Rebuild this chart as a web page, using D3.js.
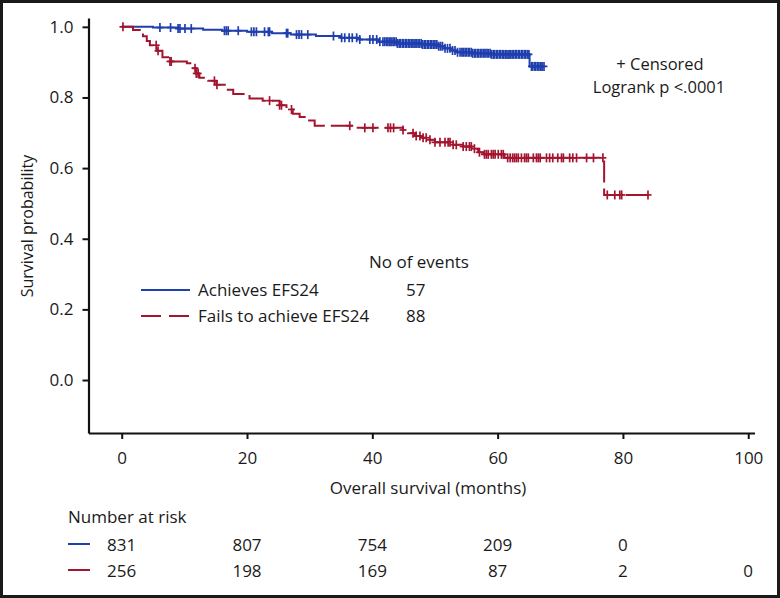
<!DOCTYPE html>
<html><head><meta charset="utf-8">
<script src="https://cdn.jsdelivr.net/npm/d3@7"></script>
<style>
body{margin:0;background:#fff}
svg{display:block}
text{font-family:'Open Sans',Lato,sans-serif;fill:#1a1a1a}
</style>
</head><body>
<svg id="c" width="780" height="598"></svg>
<script>
// ---------- data ----------
const seriesNames = ["Achieves EFS24", "Fails to achieve EFS24"];
const seriesEvents = [57, 88];

// Kaplan-Meier step points (event time in months, survival after the step)
const blueTimes = [0, 5, 9, 13, 16, 20, 24, 27, 31, 35, 38, 41, 44, 48, 50.5, 51.5, 52.5, 53.5, 56, 59, 65.1];
const blueSurv  = [1.0, 0.998, 0.995, 0.992, 0.989, 0.986, 0.982, 0.978, 0.974, 0.969, 0.964, 0.958, 0.953, 0.950, 0.945, 0.939, 0.933, 0.928, 0.925, 0.922, 0.888];
const blueEnd = 67.4;
const blueCensor = [6.1, 7.8, 9.0, 9.3, 10.1, 11.1, 16.4, 16.7, 17.0, 18.6, 20.7, 21.1, 21.5, 22.8, 23.4, 23.6,
  26.3, 26.5, 27.9, 28.3, 28.7, 29.7, 33.8, 35.1, 35.6, 36.3, 36.8, 37.5, 38.0, 39.6, 40.1, 40.7, 41.2, 41.7,
  42.0, 42.3, 42.5, 42.8, 43.0, 43.3, 43.5, 43.8, 44.0, 44.3, 44.5, 44.8, 45.0, 45.3, 45.5, 45.8, 46.0, 46.3,
  46.5, 46.8, 47.0, 47.3, 47.5, 47.8, 48.0, 48.3, 48.5, 48.8, 49.0, 49.3, 49.5, 49.8, 50.0, 50.3, 50.6, 50.9,
  51.2, 51.6, 52.0, 52.4, 52.8, 53.2, 53.6, 54.0, 54.3, 54.5, 54.8, 55.0, 55.3, 55.5, 55.8, 56.0, 56.3, 56.5,
  56.8, 57.0, 57.3, 57.5, 57.8, 58.0, 58.3, 58.5, 58.8, 59.0, 59.3, 59.5, 59.8, 60.0, 60.3, 60.5, 60.8, 61.0,
  61.3, 61.5, 61.8, 62.0, 62.3, 62.5, 62.8, 63.0, 63.3, 63.5, 63.8, 64.0, 64.3, 64.5, 64.8, 65.0,
  65.4, 65.6, 65.9, 66.1, 66.4, 66.6, 66.9, 67.1, 67.4];

const redTimes = [0, 1.8, 2.9, 3.4, 4.0, 4.5, 5.6, 6.5, 7.7, 10.4, 11.2, 11.9, 12.4, 13.8, 15.1, 16.7, 17.8, 20.4,
  22.5, 25.2, 26.3, 27.3, 28.4, 29.5, 30.8, 37.2, 44.9, 45.7, 46.8, 48.0, 49.2, 50.0, 52.9, 54.5, 56.0, 56.9, 57.7, 61.1, 77.0];
const redSurv = [1.0, 0.991, 0.983, 0.973, 0.960, 0.948, 0.932, 0.914, 0.902, 0.897, 0.883, 0.868, 0.856, 0.847, 0.836,
  0.822, 0.810, 0.797, 0.791, 0.778, 0.766, 0.754, 0.745, 0.735, 0.720, 0.714, 0.708, 0.699, 0.691, 0.686, 0.680,
  0.673, 0.666, 0.661, 0.655, 0.645, 0.639, 0.629, 0.524];
const redEnd = 84.0;
const redCensor = [0.2, 5.5, 5.8, 7.7, 7.9, 11.7, 11.9, 12.2, 14.8, 15.2, 23.6, 25.2, 25.5, 27.1, 36.4, 38.8, 40.1,
  42.5, 42.9, 43.4, 44.9, 46.5, 47.0, 47.6, 48.1, 48.6, 49.2, 50.0, 50.8, 51.6, 52.1, 52.4, 52.9, 53.4, 54.5, 55.0,
  55.5, 55.8, 56.3, 57.1, 57.9, 58.2, 58.5, 59.0, 59.3, 59.6, 60.1, 60.6, 60.9, 61.6, 62.0, 62.4, 62.7, 63.0, 63.3,
  63.8, 64.3, 64.6, 64.9, 65.7, 66.2, 66.5, 66.8, 67.8, 68.3, 68.8, 69.6, 70.2, 70.5, 71.5, 72.0, 72.6, 74.2, 75.3,
  76.8, 77.5, 78.7, 79.5, 79.8, 84.0];

const xTicks = [0, 20, 40, 60, 80, 100];
const yTicks = [0, 0.2, 0.4, 0.6, 0.8, 1.0];
const riskTimes = [0, 20, 40, 60, 80, 100];
const riskBlue = [831, 807, 754, 209, 0];
const riskRed = [256, 198, 169, 87, 2, 0];

// ---------- drawing ----------
const BLUE = "#1f3fae", RED = "#a3152f";
const svg = d3.select("#c");

svg.append("rect").attr("x", 1.5).attr("y", 1.5).attr("width", 777).attr("height", 595)
  .attr("fill", "#fff").attr("stroke", "#1a1a1a").attr("stroke-width", 3);

const x = d3.scaleLinear().domain([-5.3, 101]).range([88.5, 754.5]);
const y = d3.scaleLinear().domain([-0.15, 1.025]).range([433, 18]);

// axes
const gy = svg.append("g").attr("transform", "translate(88.5,0)")
  .call(d3.axisLeft(y).tickValues(yTicks).tickFormat(d3.format(".1f")).tickSize(6).tickSizeOuter(0).tickPadding(9));
const gx = svg.append("g").attr("transform", "translate(0,433)")
  .call(d3.axisBottom(x).tickValues(xTicks).tickFormat(d3.format("d")).tickSize(6).tickSizeOuter(0).tickPadding(13));
[gy, gx].forEach(g => {
  g.select(".domain").attr("stroke", "#111").attr("stroke-width", 2.2);
  g.selectAll(".tick line").attr("stroke", "#111").attr("stroke-width", 2);
  g.selectAll(".tick text").attr("fill", "#1a1a1a").style("font-family", "'Open Sans', sans-serif").style("font-size", "17px");
});

svg.append("text").attr("transform", "translate(33,226) rotate(-90)")
  .attr("text-anchor", "middle").style("font-size", "16px").text("Survival probability");
svg.append("text").attr("x", 428).attr("y", 494)
  .attr("text-anchor", "middle").style("font-size", "17px").text("Overall survival (months)");

// curves
function stepPoints(times, surv, end) {
  const pts = times.map((t, i) => [t, surv[i]]);
  pts.push([end, surv[surv.length - 1]]);
  return pts;
}
function survAt(times, surv, t) {
  let s = surv[0];
  for (let i = 0; i < times.length; i++) if (times[i] <= t) s = surv[i];
  return s;
}
const line = d3.line().x(d => x(d[0])).y(d => y(d[1])).curve(d3.curveStepAfter);

svg.append("path").attr("d", line(stepPoints(blueTimes, blueSurv, blueEnd)))
  .attr("fill", "none").attr("stroke", BLUE).attr("stroke-width", 2);
svg.append("path").attr("d", line(stepPoints(redTimes, redSurv, redEnd)))
  .attr("fill", "none").attr("stroke", RED).attr("stroke-width", 2).attr("stroke-dasharray", "22,6");

function censorMarks(times, surv, list, color) {
  const g = svg.append("g").attr("stroke", color).attr("stroke-width", 1.7);
  list.forEach(t => {
    const cx = x(t), cy = y(survAt(times, surv, t));
    g.append("line").attr("x1", cx).attr("x2", cx).attr("y1", cy - 4.5).attr("y2", cy + 4.5);
    g.append("line").attr("x1", cx - 3.5).attr("x2", cx + 3.5).attr("y1", cy).attr("y2", cy);
  });
}
censorMarks(blueTimes, blueSurv, blueCensor, BLUE);
censorMarks(redTimes, redSurv, redCensor, RED);

// annotation
svg.append("text").attr("x", 660).attr("y", 70).attr("text-anchor", "middle").style("font-size", "16.5px").text("+ Censored");
svg.append("text").attr("x", 659).attr("y", 92.5).attr("text-anchor", "middle").style("font-size", "16.5px").text("Logrank p <.0001");

// legend
svg.append("text").attr("x", 369).attr("y", 268).style("font-size", "17px").text("No of events");
const legY = [290, 316];
const legColors = [BLUE, RED];
const legDash = [null, "20,8"];
seriesNames.forEach((n, i) => {
  svg.append("line").attr("x1", 141).attr("x2", 190).attr("y1", legY[i]).attr("y2", legY[i])
    .attr("stroke", legColors[i]).attr("stroke-width", 2).attr("stroke-dasharray", legDash[i]);
  svg.append("text").attr("x", 198).attr("y", legY[i] + 5.5).style("font-size", "17px").text(n);
  svg.append("text").attr("x", 406).attr("y", legY[i] + 5.5).style("font-size", "17px").text(seriesEvents[i]);
});

// number at risk table
svg.append("text").attr("x", 68).attr("y", 523).style("font-size", "17px").text("Number at risk");
const rowY = [551, 577];
[riskBlue, riskRed].forEach((row, r) => {
  svg.append("line").attr("x1", 68).attr("x2", 90).attr("y1", rowY[r] - 7).attr("y2", rowY[r] - 7)
    .attr("stroke", legColors[r]).attr("stroke-width", 2);
  row.forEach((v, i) => {
    svg.append("text").attr("x", x(riskTimes[i])).attr("y", rowY[r]).attr("text-anchor", "middle")
      .style("font-size", "17px").text(v);
  });
});
</script>
</body></html>
